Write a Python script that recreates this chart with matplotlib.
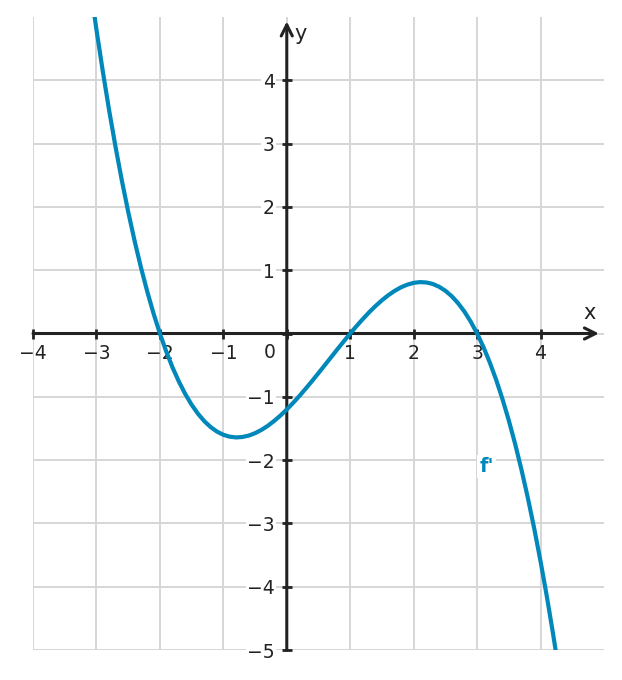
import matplotlib
matplotlib.use("Agg")
import matplotlib.pyplot as plt
from matplotlib.ticker import FixedLocator, FixedFormatter

# Curve f'(x)
x_vals = [-3.1, -3.0, -2.9, -2.8, -2.7, -2.6, -2.5, -2.4, -2.3, -2.2, -2.1, -2.0,
          -1.9, -1.8, -1.7, -1.6, -1.5, -1.4, -1.3, -1.2, -1.1, -1.0,
          -0.9, -0.8, -0.7, -0.6, -0.5, -0.4, -0.3, -0.2, -0.1, 0.0,
          0.1, 0.2, 0.3, 0.4, 0.5, 0.6, 0.7, 0.8, 0.9, 1.0,
          1.1, 1.2, 1.3, 1.4, 1.5, 1.6, 1.7, 1.8, 1.9, 2.0,
          2.1, 2.2, 2.3, 2.4, 2.5, 2.6, 2.7, 2.8, 2.9, 3.0,
          3.1, 3.2, 3.3, 3.4, 3.5, 3.6, 3.7, 3.8, 3.9, 4.0,
          4.1, 4.2, 4.3]
y_vals = [5.502, 4.800, 4.142, 3.526, 2.953, 2.419, 1.925, 1.469, 1.049, 0.666, 0.316, 0.000,
          -0.284, -0.538, -0.761, -0.957, -1.125, -1.267, -1.385, -1.478, -1.550, -1.600,
          -1.630, -1.642, -1.635, -1.613, -1.575, -1.523, -1.459, -1.382, -1.296, -1.200,
          -1.096, -0.986, -0.869, -0.749, -0.625, -0.499, -0.373, -0.246, -0.122, 0.000,
          0.118, 0.230, 0.337, 0.435, 0.525, 0.605, 0.673, 0.730, 0.772, 0.800,
          0.812, 0.806, 0.783, 0.739, 0.675, 0.589, 0.479, 0.346, 0.186, 0.000,
          -0.214, -0.458, -0.731, -1.037, -1.375, -1.747, -2.155, -2.598, -3.080, -3.600,
          -4.160, -4.762, -5.405]

x_ticks = [-4, -3, -2, -1, 0, 1, 2, 3, 4]
x_tick_labels = ["\u22124", "\u22123", "\u22122", "\u22121", "", "1", "2", "3", "4"]
y_ticks = [-5, -4, -3, -2, -1, 0, 1, 2, 3, 4]
y_tick_labels = ["\u22125", "\u22124", "\u22123", "\u22122", "\u22121", "", "1", "2", "3", "4"]
curve_label = "f'"

curve_color = "#0088bb"
axis_color = "#222222"
grid_color = "#d6d6d6"

fig = plt.figure(figsize=(6.22, 6.80), dpi=100)
ax = fig.add_axes([33 / 622, 30 / 680, 571 / 622, 633 / 680])
ax.set_xlim(-4, 5)
ax.set_ylim(-5, 5)

for s in ax.spines.values():
    s.set_visible(False)
ax.spines['left'].set_position(('data', 0))
ax.spines['bottom'].set_position(('data', 0))

ax.xaxis.set_major_locator(FixedLocator(x_ticks))
ax.xaxis.set_major_formatter(FixedFormatter(x_tick_labels))
ax.yaxis.set_major_locator(FixedLocator(y_ticks))
ax.yaxis.set_major_formatter(FixedFormatter(y_tick_labels))

ax.tick_params(axis='both', direction='inout', length=7.5, width=2.0,
               color=axis_color, labelcolor=axis_color, labelsize=13.5)
ax.tick_params(axis='x', pad=3.5)
ax.tick_params(axis='y', pad=5)

ax.grid(True, color=grid_color, linewidth=1.4, zorder=0)
ax.set_axisbelow(True)

for lbl in ax.get_yticklabels():
    lbl.set_bbox(dict(facecolor='white', edgecolor='none', pad=1.0))

# axes with arrows
ax.annotate("", xy=(4.92, 0), xytext=(-4, 0),
            arrowprops=dict(arrowstyle='->', color=axis_color, lw=2.2,
                            mutation_scale=20, shrinkA=0, shrinkB=0),
            zorder=4, annotation_clip=False)
ax.annotate("", xy=(0, 4.93), xytext=(0, -5),
            arrowprops=dict(arrowstyle='->', color=axis_color, lw=2.2,
                            mutation_scale=20, shrinkA=0, shrinkB=0),
            zorder=4, annotation_clip=False)

ax.plot(x_vals, y_vals, color=curve_color, linewidth=3.0, zorder=5,
        solid_capstyle='butt', solid_joinstyle='round')

ax.text(-0.27, -0.3, "0", ha='center', va='center', fontsize=13.5, color=axis_color)
ax.text(4.78, 0.33, "x", ha='center', va='center', fontsize=15, color=axis_color)
ax.text(0.21, 4.73, "y", ha='center', va='center', fontsize=15, color=axis_color)
ax.text(3.15, -2.1, curve_label, ha='center', va='center', fontsize=14,
        fontweight='bold', color=curve_color, zorder=6,
        bbox=dict(facecolor='white', edgecolor='none', pad=1.5))

fig.savefig("out.png", dpi=100)
